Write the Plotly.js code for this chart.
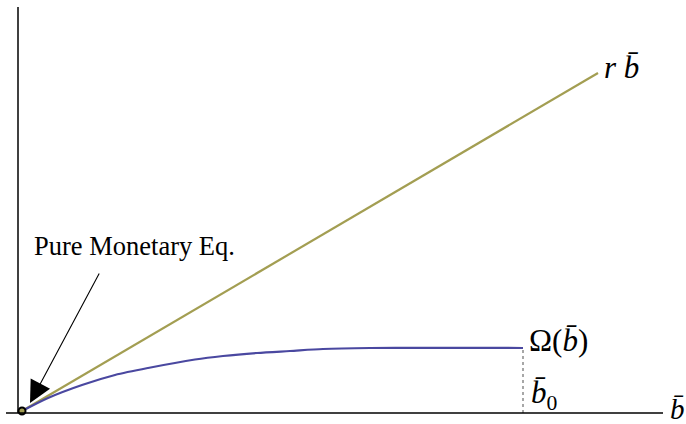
<!DOCTYPE html>
<html>
<head>
<meta charset="utf-8">
<script src="https://cdn.plot.ly/plotly-3.0.1.min.js"></script>
<style>html,body{margin:0;padding:0;background:#fff;}#chart{width:686px;height:424px;}</style>
</head>
<body>
<div id="chart"></div>
<script>
// Omega(b) curve
var omegaB = [0, 0.26, 0.60, 0.93, 1.26, 1.73, 2.01, 2.35, 2.68, 3.01, 3.48, 3.98, 4.48, 5.01];
var omegaV = [0, 0.13, 0.26, 0.36, 0.43, 0.515, 0.55, 0.58, 0.60, 0.62, 0.63, 0.632, 0.632, 0.63];
// r*b line
var rbB = [0, 5.76];
var rbV = [0, 3.38];
// b0 marker (dotted)
var b0 = 5.01;
var b0Line = [-0.02, 0.63];
// pure monetary equilibrium point
var eqB = [0];
var eqV = [0];

var OV = '\u0304';
var serif = 'Liberation Serif, Times New Roman, serif';

var traces = [
  {x: rbB, y: rbV, mode: 'lines', line: {color: '#a39e52', width: 2.2}, hoverinfo: 'skip'},
  {x: omegaB, y: omegaV, mode: 'lines', line: {color: '#4a48a0', width: 2.2, shape: 'spline', smoothing: 0.8}, hoverinfo: 'skip'},
  {x: [b0, b0], y: b0Line, mode: 'lines', line: {color: '#8a8a8a', width: 1.5, dash: 'dot'}, hoverinfo: 'skip'},
  {x: eqB, y: eqV, mode: 'markers', marker: {symbol: 'circle', size: 7, color: '#a39e52', line: {color: '#000', width: 2}}, hoverinfo: 'skip'}
];

var layout = {
  width: 686, height: 424,
  margin: {l: 0, r: 0, t: 0, b: 0},
  paper_bgcolor: '#fff', plot_bgcolor: '#fff',
  showlegend: false,
  xaxis: {range: [-0.22, 6.64], visible: false, fixedrange: true},
  yaxis: {range: [-0.13, 4.11], visible: false, fixedrange: true},
  shapes: [
    {type: 'line', xref: 'x', yref: 'y', x0: -0.16, x1: 6.41, y0: -0.02, y1: -0.02, line: {color: '#000', width: 1.5}},
    {type: 'line', xref: 'x', yref: 'y', x0: -0.04, x1: -0.04, y0: -0.02, y1: 4.04, line: {color: '#000', width: 1.5}}
  ],
  annotations: [
    {x: 5.80, y: 3.44, xanchor: 'left', yanchor: 'middle', showarrow: false,
     text: '<i>r</i> <i>b' + OV + '</i>', font: {family: serif, size: 31, color: '#000'}},
    {x: 5.05, y: 0.71, xanchor: 'left', yanchor: 'middle', showarrow: false,
     text: '\u03A9(<i>b' + OV + '</i>)', font: {family: serif, size: 31, color: '#000'}},
    {x: 5.07, y: 0.16, xanchor: 'left', yanchor: 'middle', showarrow: false,
     text: '<i>b' + OV + '</i><sub>0</sub>', font: {family: serif, size: 31, color: '#000'}},
    {x: 6.46, y: 0.02, xanchor: 'left', yanchor: 'middle', showarrow: false,
     text: '<i>b' + OV + '</i>', font: {family: serif, size: 29, color: '#000'}},
    {x: 0.10, y: 1.65, xanchor: 'left', yanchor: 'middle', showarrow: false,
     text: 'Pure Monetary Eq.', font: {family: serif, size: 26.5, color: '#000'}},
    {x: 0.08, y: 0.08, xref: 'x', yref: 'y', text: '', showarrow: true,
     ax: 70, ay: -131, axref: 'pixel', ayref: 'pixel',
     arrowhead: 2, arrowsize: 4, arrowwidth: 1.1, arrowcolor: '#000', standoff: 0}
  ]
};

Plotly.newPlot('chart', traces, layout, {staticPlot: true, displayModeBar: false});
</script>
</body>
</html>
